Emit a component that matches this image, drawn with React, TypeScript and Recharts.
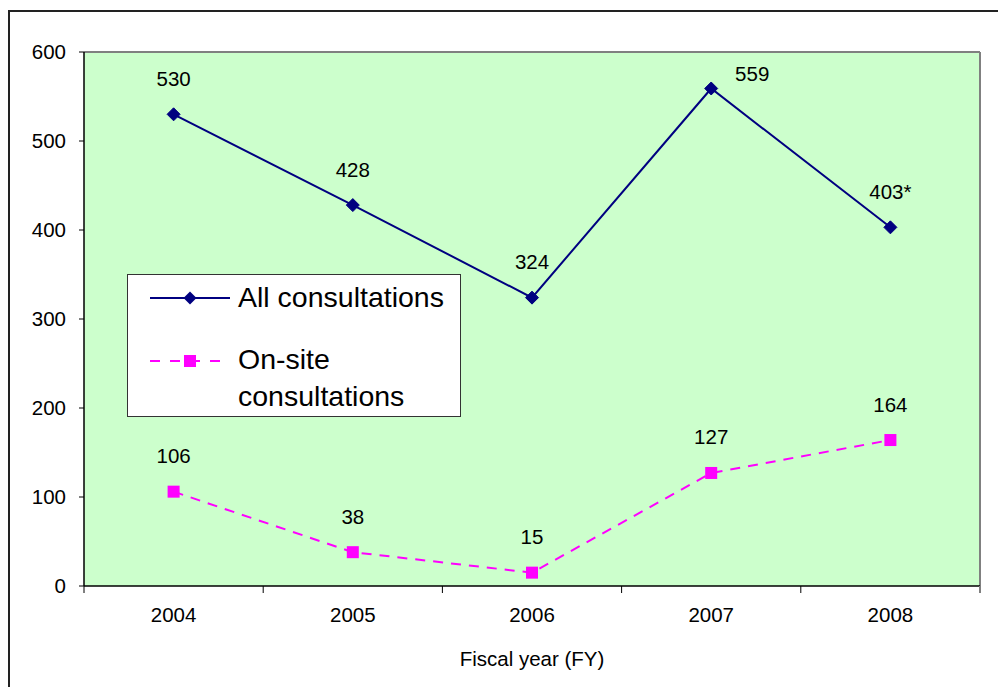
import React from 'react';
import { LineChart, Line, XAxis, YAxis, Legend, LabelList, CartesianGrid } from 'recharts';

const years = ['2004', '2005', '2006', '2007', '2008'];
const allConsultations = [530, 428, 324, 559, 403];
const onSiteConsultations = [106, 38, 15, 127, 164];
const allNotes = ['', '', '', '', '*'];
const yTicks = [0, 100, 200, 300, 400, 500, 600];

const data = years.map((y, i) => ({
  year: y,
  all: allConsultations[i],
  onsite: onSiteConsultations[i],
}));

const FONT = '"Liberation Sans", Arial, sans-serif';
const NAVY = '#000080';
const MAGENTA = '#FF00FF';
const X_TICK_MARGIN = 21;
const TEXT_SIZE = 20.5;

const Diamond = (props: any) => {
  const { cx, cy } = props;
  if (cx == null || cy == null) return null;
  const r = 6.5;
  return (
    <polygon
      points={`${cx},${cy - r} ${cx + r},${cy} ${cx},${cy + r} ${cx - r},${cy}`}
      fill={NAVY}
      stroke={NAVY}
    />
  );
};

const Square = (props: any) => {
  const { cx, cy } = props;
  if (cx == null || cy == null) return null;
  const s = 12;
  return <rect x={cx - s / 2} y={cy - s / 2} width={s} height={s} fill={MAGENTA} />;
};

const XTick = (props: any) => {
  const { x, y, payload, index, visibleTicksCount, width } = props;
  const band = width && visibleTicksCount ? width / visibleTicksCount : 0;
  const axisY = y - X_TICK_MARGIN;
  const n = visibleTicksCount || 0;
  return (
    <g>
      {band > 0 && (
        <line x1={x - band / 2} y1={axisY} x2={x - band / 2} y2={axisY + 7} stroke="#000" strokeWidth={1} />
      )}
      {band > 0 && index === n - 1 && (
        <line x1={x + band / 2} y1={axisY} x2={x + band / 2} y2={axisY + 7} stroke="#808080" strokeWidth={2} />
      )}
      <text x={x} y={y} dy="0.71em" textAnchor="middle" fill="#000" fontSize={TEXT_SIZE} fontFamily={FONT}>
        {payload.value}
      </text>
    </g>
  );
};

const makeLabel = (series: 'all' | 'onsite') => (props: any) => {
  const { x, y, value, index } = props;
  let dx = 0;
  let dy = -36;
  let text = String(value);
  if (series === 'all') {
    text = text + allNotes[index];
    if (index === 3) {
      dx = 41;
      dy = -15;
    }
  }
  return (
    <text
      x={x + dx}
      y={y + dy}
      textAnchor="middle"
      dominantBaseline="central"
      fontFamily={FONT}
      fontSize={TEXT_SIZE}
      fill="#000"
    >
      {text}
    </text>
  );
};

const LegendIcon = ({ type }: { type: string }) => (
  <svg width={82} height={20} style={{ position: 'absolute', left: 22, top: 0 }}>
    {type === 'all' ? (
      <>
        <line x1={0} y1={10} x2={80} y2={10} stroke={NAVY} strokeWidth={2} />
        <polygon points="40,3.5 46.5,10 40,16.5 33.5,10" fill={NAVY} />
      </>
    ) : (
      <>
        <line x1={0} y1={10} x2={80} y2={10} stroke={MAGENTA} strokeWidth={2} strokeDasharray="10 10" />
        <rect x={34} y={4} width={12} height={12} fill={MAGENTA} />
      </>
    )}
  </svg>
);

const renderLegend = (props: any) => {
  const { payload } = props;
  const rows = [
    { top: 4, iconTop: 13 },
    { top: 66, iconTop: 76 },
  ];
  return (
    <div
      style={{
        position: 'relative',
        width: 334,
        height: 143,
        boxSizing: 'border-box',
        border: '1.5px solid #333',
        background: '#fff',
        fontFamily: FONT,
        fontSize: 28.5,
        color: '#000',
      }}
    >
      {(payload || []).map((p: any, i: number) => (
        <div key={i} style={{ position: 'absolute', left: 0, top: rows[i].top, width: 334 }}>
          <div style={{ position: 'absolute', top: rows[i].iconTop - rows[i].top, left: 0 }}>
            <LegendIcon type={p.dataKey} />
          </div>
          <div
            style={{
              position: 'absolute',
              left: 110,
              top: 0,
              width: 218,
              lineHeight: '37px',
              whiteSpace: 'normal',
            }}
          >
            {p.value}
          </div>
        </div>
      ))}
    </div>
  );
};

export default function App() {
  return (
    <div style={{ position: 'relative', width: 998, height: 679, background: '#fff' }}>
      <div
        style={{
          position: 'absolute',
          left: 0,
          top: 2,
          right: 0,
          bottom: 0,
          borderTop: '2px solid #222',
          borderLeft: '2px solid #222',
          pointerEvents: 'none',
        }}
      />
      <LineChart
        width={998}
        height={679}
        data={data}
        margin={{ top: 44, right: 26, bottom: 41, left: 16 }}
        style={{ position: 'absolute', left: 0, top: 0 }}
      >
        <CartesianGrid
          fill="#CCFFCC"
          stroke="#808080"
          strokeWidth={2}
          horizontalCoordinatesGenerator={(p: any) => [p.offset.top]}
          verticalCoordinatesGenerator={(p: any) => [p.offset.left + p.offset.width]}
        />
        <XAxis
          dataKey="year"
          scale="band"
          height={60}
          tickSize={0}
          tickMargin={X_TICK_MARGIN}
          tickLine={false}
          axisLine={{ stroke: '#000', strokeWidth: 1.5 }}
          tick={<XTick />}
          interval={0}
          label={{
            value: 'Fiscal year (FY)',
            position: 'bottom',
            offset: 5,
            fill: '#000',
            fontSize: TEXT_SIZE,
            fontFamily: FONT,
          }}
        />
        <YAxis
          domain={[0, 600]}
          ticks={yTicks}
          width={60}
          tickSize={5}
          tickMargin={13}
          axisLine={{ stroke: '#000', strokeWidth: 1.5 }}
          tickLine={{ stroke: '#000' }}
          tick={{ fill: '#000', fontSize: TEXT_SIZE, fontFamily: FONT }}
          allowDataOverflow
        />
        <Legend
          layout="vertical"
          align="center"
          verticalAlign="middle"
          content={renderLegend}
          wrapperStyle={{ left: 119, top: 266, width: 334, height: 143 }}
        />
        <Line
          type="linear"
          dataKey="all"
          name="All consultations"
          stroke={NAVY}
          strokeWidth={2}
          dot={<Diamond />}
          activeDot={false}
          isAnimationActive={false}
        >
          <LabelList dataKey="all" content={makeLabel('all')} />
        </Line>
        <Line
          type="linear"
          dataKey="onsite"
          name="On-site consultations"
          stroke={MAGENTA}
          strokeWidth={2}
          strokeDasharray="10 8"
          dot={<Square />}
          activeDot={false}
          isAnimationActive={false}
        >
          <LabelList dataKey="onsite" content={makeLabel('onsite')} />
        </Line>
      </LineChart>
    </div>
  );
}
